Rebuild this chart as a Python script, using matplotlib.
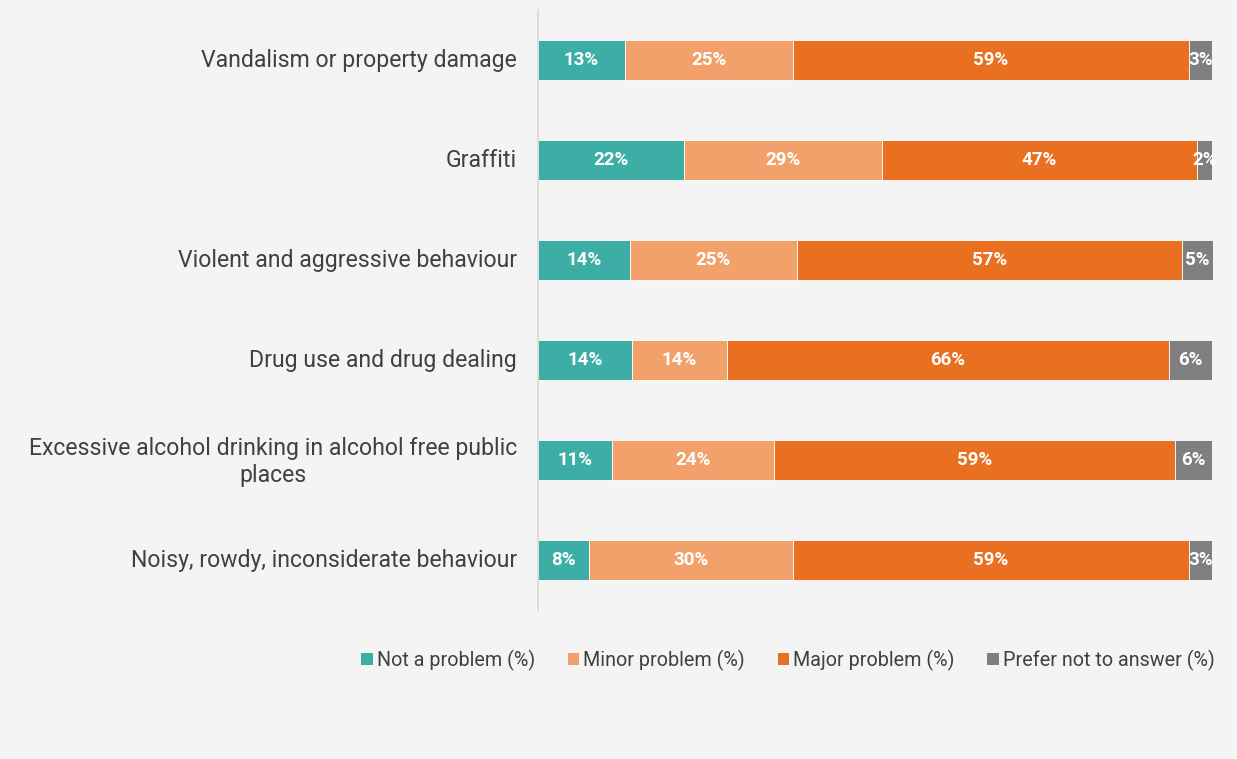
import numpy as np
import matplotlib.pyplot as plt
from matplotlib.patches import Patch

plt.rcParams['font.family'] = ['Roboto', 'DejaVu Sans']

# categories, top to bottom
categories = [
    'Vandalism or property damage',
    'Graffiti',
    'Violent and aggressive behaviour',
    'Drug use and drug dealing',
    'Excessive alcohol drinking in alcohol free public\nplaces',
    'Noisy, rowdy, inconsiderate behaviour',
]

not_problem = [12.9, 21.6, 13.6, 13.9, 11.0, 7.6]
minor_problem = [25.0, 29.4, 24.9, 14.1, 24.1, 30.2]
major_problem = [58.7, 46.8, 57.1, 65.6, 59.4, 58.9]
prefer_not = [3.4, 2.2, 4.6, 6.4, 5.5, 3.3]

series_names = ['Not a problem (%)', 'Minor problem (%)', 'Major problem (%)',
                'Prefer not to answer (%)']
colors = ['#3daea6', '#f2a16a', '#ea7021', '#7f7f7f']
bg = '#f4f4f4'

fig = plt.figure(figsize=(12.37, 7.59), dpi=100, facecolor=bg)
ax = fig.add_axes([538 / 1237, 1 - 610 / 759, 675 / 1237, 600 / 759])
ax.set_facecolor(bg)

y = np.arange(len(categories))
left = np.zeros(len(categories))
for vals, name, col in zip([not_problem, minor_problem, major_problem, prefer_not],
                           series_names, colors):
    vals = np.array(vals)
    ax.barh(y, vals, left=left, height=0.4, color=col, edgecolor='white',
            linewidth=0.6, label=name)
    for yi, l, v in zip(y, left, vals):
        ax.text(l + v / 2, yi, f'{v:.0f}%', ha='center', va='center',
                color='white', fontsize=13.5, fontweight='bold')
    left += vals

ax.set_xlim(0, left.max())
ax.set_ylim(len(categories) - 0.5, -0.5)
ax.set_yticks(y - 0.02)
ax.set_yticklabels(categories, fontsize=16.6, color='#404040', multialignment='center')
ax.tick_params(axis='y', length=0, pad=15)
ax.set_xticks([])
for s in ['top', 'right', 'bottom']:
    ax.spines[s].set_visible(False)
ax.spines['left'].set_color('#d9d9d9')
ax.spines['left'].set_linewidth(1.2)

handles = [Patch(facecolor=c, label=n) for c, n in zip(colors, series_names)]
fig.legend(handles=handles, loc='center', bbox_to_anchor=(788 / 1237, 1 - 660 / 759),
           ncol=4, frameon=False, fontsize=14.2, handlelength=0.6, handleheight=0.6,
           handletextpad=0.2, columnspacing=1.65, labelcolor='#404040')

fig.savefig('out.png', dpi=100, facecolor=bg)
